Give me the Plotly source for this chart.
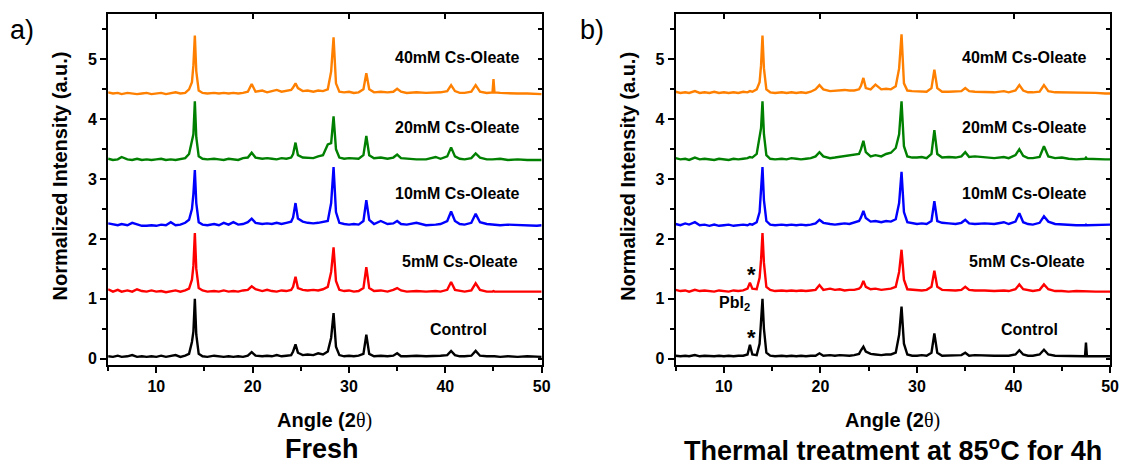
import plotly.graph_objects as go

# ---------------- data ----------------
angle_fresh = [5, 5.5, 6, 6.4, 7, 7.5, 8, 8.5, 9, 9.5,
               10, 10.5, 11, 11.5, 12, 12.5, 13, 13.4, 13.7, 13.85,
               14.0, 14.15, 14.4, 14.8, 15.3, 16, 16.5, 17, 17.5, 18,
               18.5, 19, 19.5, 19.9, 20.3, 21, 21.5, 22, 22.5, 23,
               23.5, 24, 24.2, 24.45, 24.7, 25.2, 25.7, 26.3, 26.8, 27.3,
               27.8, 28.15, 28.4, 28.65, 29, 29.5, 30, 30.5, 31, 31.5,
               31.8, 32.1, 32.6, 33.3, 34, 34.6, 35, 35.4, 36, 37,
               38, 39, 39.5, 40.2, 40.6, 41.0, 41.5, 42, 42.7, 43.15,
               43.6, 44.3, 44.9, 45.0, 45.1, 45.7, 46.5, 47.5, 48.5, 49.5,
               50]

fresh_control = [0.04, 0.03, 0.05, 0.03, 0.04, 0.06, 0.03, 0.04, 0.03, 0.04,
                 0.03, 0.05, 0.03, 0.04, 0.06, 0.03, 0.05, 0.08, 0.28, 0.45,
                 1.00, 0.40, 0.08, 0.04, 0.03, 0.05, 0.04, 0.03, 0.04, 0.03,
                 0.04, 0.03, 0.05, 0.11, 0.05, 0.04, 0.05, 0.04, 0.06, 0.04,
                 0.05, 0.06, 0.12, 0.24, 0.10, 0.06, 0.07, 0.06, 0.09, 0.07,
                 0.12, 0.35, 0.76, 0.20, 0.06, 0.04, 0.05, 0.04, 0.05, 0.08,
                 0.40, 0.08, 0.04, 0.05, 0.04, 0.05, 0.09, 0.04, 0.04, 0.05,
                 0.04, 0.04, 0.05, 0.06, 0.13, 0.06, 0.04, 0.04, 0.05, 0.13,
                 0.05, 0.04, 0.03, 0.04, 0.04, 0.03, 0.04, 0.03, 0.04, 0.03,
                 0.03]

fresh_5mM = [1.16, 1.12, 1.15, 1.12, 1.14, 1.12, 1.16, 1.13, 1.12, 1.14,
             1.12, 1.13, 1.11, 1.12, 1.14, 1.12, 1.14, 1.17, 1.32, 1.55,
             2.10, 1.50, 1.18, 1.14, 1.12, 1.13, 1.12, 1.14, 1.12, 1.13,
             1.12, 1.14, 1.15, 1.21, 1.16, 1.13, 1.15, 1.13, 1.12, 1.14,
             1.13, 1.15, 1.20, 1.37, 1.18, 1.15, 1.14, 1.15, 1.14, 1.16,
             1.20, 1.45, 1.86, 1.30, 1.15, 1.13, 1.14, 1.12, 1.13, 1.18,
             1.53, 1.18, 1.13, 1.14, 1.12, 1.15, 1.18, 1.14, 1.12, 1.13,
             1.12, 1.13, 1.12, 1.15, 1.28, 1.15, 1.13, 1.12, 1.14, 1.26,
             1.15, 1.12, 1.12, 1.13, 1.12, 1.12, 1.12, 1.11, 1.12, 1.11,
             1.12]

fresh_10mM = [2.26, 2.24, 2.23, 2.25, 2.23, 2.27, 2.24, 2.22, 2.22, 2.23,
              2.22, 2.24, 2.23, 2.28, 2.23, 2.24, 2.27, 2.32, 2.50, 2.75,
              3.15, 2.60, 2.28, 2.24, 2.23, 2.25, 2.23, 2.27, 2.24, 2.28,
              2.24, 2.25, 2.28, 2.34, 2.27, 2.25, 2.26, 2.25, 2.27, 2.25,
              2.27, 2.29, 2.36, 2.60, 2.34, 2.29, 2.27, 2.26, 2.27, 2.28,
              2.30, 2.60, 3.20, 2.45, 2.27, 2.25, 2.24, 2.25, 2.24, 2.30,
              2.65, 2.32, 2.25, 2.30, 2.25, 2.26, 2.30, 2.25, 2.24, 2.27,
              2.23, 2.24, 2.25, 2.30, 2.46, 2.30, 2.25, 2.24, 2.27, 2.42,
              2.28, 2.25, 2.24, 2.24, 2.24, 2.23, 2.24, 2.23, 2.23, 2.22,
              2.23]

fresh_20mM = [3.34, 3.32, 3.33, 3.37, 3.33, 3.32, 3.34, 3.32, 3.33, 3.32,
              3.33, 3.34, 3.32, 3.33, 3.32, 3.34, 3.35, 3.42, 3.62, 3.75,
              4.30, 3.70, 3.38, 3.34, 3.33, 3.34, 3.33, 3.32, 3.34, 3.33,
              3.32, 3.35, 3.36, 3.44, 3.36, 3.34, 3.35, 3.34, 3.33, 3.35,
              3.34, 3.36, 3.42, 3.61, 3.40, 3.36, 3.35, 3.35, 3.38, 3.40,
              3.58, 3.60, 4.05, 3.50, 3.36, 3.34, 3.35, 3.34, 3.34, 3.40,
              3.72, 3.40, 3.35, 3.36, 3.34, 3.36, 3.41, 3.35, 3.34, 3.33,
              3.33, 3.37, 3.34, 3.38, 3.53, 3.38, 3.34, 3.33, 3.35, 3.43,
              3.36, 3.33, 3.33, 3.33, 3.33, 3.34, 3.32, 3.33, 3.32, 3.32,
              3.32]

fresh_40mM = [4.45, 4.43, 4.44, 4.42, 4.44, 4.43, 4.42, 4.43, 4.44, 4.42,
              4.43, 4.44, 4.42, 4.43, 4.45, 4.43, 4.44, 4.50, 4.62, 4.90,
              5.40, 4.80, 4.48, 4.44, 4.43, 4.44, 4.43, 4.44, 4.43, 4.44,
              4.43, 4.44, 4.46, 4.59, 4.46, 4.48, 4.45, 4.47, 4.49, 4.46,
              4.47, 4.49, 4.53, 4.60, 4.52, 4.47, 4.48, 4.46, 4.48, 4.47,
              4.50, 4.80, 5.37, 4.60, 4.46, 4.45, 4.46, 4.44, 4.45, 4.50,
              4.77, 4.50, 4.45, 4.46, 4.45, 4.46, 4.51, 4.46, 4.44, 4.45,
              4.44, 4.44, 4.45, 4.47, 4.57, 4.47, 4.44, 4.44, 4.46, 4.57,
              4.46, 4.44, 4.45, 4.67, 4.45, 4.44, 4.43, 4.43, 4.43, 4.42,
              4.42]

angle_thermal = [5, 5.5, 6, 6.4, 7, 7.5, 8, 8.5, 9, 9.5,
                 10, 10.5, 11, 11.5, 12, 12.45, 12.7, 12.95, 13.4, 13.7,
                 13.85, 14.0, 14.15, 14.4, 14.8, 15.3, 16, 16.5, 17, 17.5,
                 18, 18.5, 19, 19.5, 19.9, 20.3, 21, 21.5, 22, 22.5,
                 23, 23.5, 24, 24.2, 24.45, 24.7, 25.2, 25.7, 26.3, 26.8,
                 27.3, 27.8, 28.15, 28.4, 28.65, 29, 29.5, 30, 30.5, 31,
                 31.5, 31.8, 32.1, 32.6, 33.3, 34, 34.6, 35, 35.4, 36,
                 37, 38, 39, 39.5, 40.2, 40.6, 41.0, 41.5, 42, 42.7,
                 43.15, 43.6, 44.3, 45.0, 45.7, 46.5, 47.4, 47.5, 47.6, 48.5,
                 49.5, 50]

thermal_control = [0.05, 0.04, 0.05, 0.04, 0.06, 0.04, 0.05, 0.04, 0.04, 0.05,
                   0.04, 0.05, 0.04, 0.05, 0.05, 0.07, 0.23, 0.07, 0.06, 0.25,
                   0.55, 1.00, 0.50, 0.10, 0.05, 0.04, 0.05, 0.04, 0.05, 0.04,
                   0.05, 0.04, 0.05, 0.05, 0.09, 0.05, 0.06, 0.05, 0.06, 0.05,
                   0.05, 0.06, 0.08, 0.14, 0.20, 0.12, 0.08, 0.07, 0.06, 0.07,
                   0.07, 0.10, 0.40, 0.87, 0.25, 0.07, 0.05, 0.05, 0.06, 0.05,
                   0.10, 0.42, 0.10, 0.05, 0.05, 0.05, 0.06, 0.10, 0.05, 0.06,
                   0.05, 0.05, 0.05, 0.05, 0.07, 0.14, 0.07, 0.05, 0.05, 0.07,
                   0.15, 0.07, 0.05, 0.05, 0.04, 0.05, 0.04, 0.27, 0.04, 0.04,
                   0.04, 0.04]

thermal_5mM = [1.15, 1.13, 1.14, 1.12, 1.15, 1.13, 1.14, 1.13, 1.12, 1.14,
               1.13, 1.12, 1.14, 1.13, 1.14, 1.17, 1.27, 1.17, 1.16, 1.35,
               1.65, 2.10, 1.60, 1.20, 1.15, 1.13, 1.14, 1.13, 1.14, 1.13,
               1.14, 1.13, 1.14, 1.15, 1.23, 1.15, 1.17, 1.15, 1.16, 1.14,
               1.15, 1.15, 1.17, 1.20, 1.30, 1.20, 1.16, 1.17, 1.15, 1.16,
               1.17, 1.20, 1.45, 1.82, 1.32, 1.16, 1.15, 1.15, 1.14, 1.15,
               1.20, 1.47, 1.20, 1.15, 1.14, 1.14, 1.15, 1.20, 1.15, 1.14,
               1.14, 1.13, 1.14, 1.13, 1.16, 1.24, 1.16, 1.14, 1.13, 1.15,
               1.24, 1.16, 1.13, 1.13, 1.12, 1.13, 1.12, 1.13, 1.12, 1.12,
               1.12, 1.12]

thermal_10mM = [2.25, 2.23, 2.26, 2.24, 2.28, 2.23, 2.24, 2.22, 2.24, 2.22,
                2.23, 2.24, 2.22, 2.23, 2.24, 2.23, 2.25, 2.24, 2.28, 2.45,
                2.80, 3.20, 2.65, 2.30, 2.24, 2.23, 2.24, 2.23, 2.24, 2.23,
                2.24, 2.23, 2.24, 2.26, 2.32, 2.27, 2.25, 2.24, 2.25, 2.26,
                2.25, 2.27, 2.30, 2.36, 2.47, 2.35, 2.29, 2.30, 2.28, 2.30,
                2.29, 2.33, 2.60, 3.12, 2.45, 2.28, 2.26, 2.25, 2.26, 2.25,
                2.30, 2.63, 2.30, 2.27, 2.26, 2.25, 2.27, 2.32, 2.26, 2.25,
                2.26, 2.25, 2.28, 2.25, 2.29, 2.43, 2.28, 2.25, 2.24, 2.27,
                2.38, 2.29, 2.25, 2.24, 2.24, 2.23, 2.23, 2.24, 2.23, 2.23,
                2.23, 2.24]

thermal_20mM = [3.35, 3.33, 3.34, 3.32, 3.36, 3.33, 3.34, 3.33, 3.32, 3.34,
                3.33, 3.32, 3.34, 3.33, 3.34, 3.35, 3.37, 3.36, 3.42, 3.70,
                3.85, 4.30, 3.75, 3.40, 3.34, 3.33, 3.34, 3.33, 3.35, 3.34,
                3.33, 3.34, 3.35, 3.38, 3.45, 3.38, 3.35, 3.36, 3.37, 3.38,
                3.39, 3.40, 3.42, 3.50, 3.64, 3.45, 3.38, 3.40, 3.38, 3.42,
                3.44, 3.52, 3.75, 4.30, 3.55, 3.38, 3.36, 3.36, 3.37, 3.35,
                3.42, 3.82, 3.42, 3.36, 3.37, 3.36, 3.38, 3.45, 3.37, 3.38,
                3.36, 3.35, 3.37, 3.35, 3.40, 3.50, 3.39, 3.35, 3.35, 3.37,
                3.55, 3.38, 3.35, 3.36, 3.34, 3.33, 3.34, 3.36, 3.34, 3.33,
                3.33, 3.33]

thermal_40mM = [4.46, 4.44, 4.45, 4.44, 4.47, 4.44, 4.45, 4.44, 4.46, 4.44,
                4.45, 4.44, 4.45, 4.44, 4.46, 4.45, 4.47, 4.46, 4.50, 4.62,
                4.90, 5.40, 4.85, 4.50, 4.45, 4.44, 4.45, 4.44, 4.45, 4.44,
                4.45, 4.44, 4.46, 4.50, 4.57, 4.50, 4.47, 4.48, 4.48, 4.49,
                4.48, 4.48, 4.50, 4.56, 4.69, 4.52, 4.50, 4.58, 4.50, 4.51,
                4.50, 4.55, 4.85, 5.42, 4.60, 4.48, 4.47, 4.47, 4.46, 4.46,
                4.52, 4.83, 4.52, 4.46, 4.46, 4.46, 4.47, 4.52, 4.47, 4.46,
                4.46, 4.45, 4.47, 4.45, 4.48, 4.57, 4.48, 4.45, 4.45, 4.46,
                4.57, 4.47, 4.45, 4.45, 4.44, 4.44, 4.44, 4.45, 4.44, 4.44,
                4.43, 4.43]

series_names = ["Control", "5mM Cs-Oleate", "10mM Cs-Oleate", "20mM Cs-Oleate", "40mM Cs-Oleate"]
series_colors = ["#000000", "#FF0000", "#0000FF", "#008000", "#FF8000"]
fresh_series = [fresh_control, fresh_5mM, fresh_10mM, fresh_20mM, fresh_40mM]
thermal_series = [thermal_control, thermal_5mM, thermal_10mM, thermal_20mM, thermal_40mM]

# label anchor positions (data coords: right end x, centre y)
fresh_label_x = [44.5, 47.7, 48.0, 48.0, 48.0]
fresh_label_y = [0.48, 1.63, 2.76, 3.87, 5.03]
thermal_label_x = [44.8, 47.6, 47.8, 47.8, 47.8]
thermal_label_y = [0.48, 1.63, 2.76, 3.87, 5.03]

x_range = [5, 50]
y_range = [-0.1, 5.76]

# ---------------- figure ----------------
W, H = 1132, 472
FONT = "Liberation Sans, Arial, sans-serif"

fig = go.Figure()
for vals, col, name in zip(fresh_series, series_colors, series_names):
    fig.add_trace(go.Scatter(x=angle_fresh, y=vals, mode="lines", name=name,
                             line=dict(color=col, width=2.4), xaxis="x", yaxis="y"))
for vals, col, name in zip(thermal_series, series_colors, series_names):
    fig.add_trace(go.Scatter(x=angle_thermal, y=vals, mode="lines", name=name,
                             line=dict(color=col, width=2.4), xaxis="x2", yaxis="y2"))
# invisible single-point helper traces so the top/right inside-tick axes are drawn
for xa, ya in [("x3", "y3"), ("x4", "y4")]:
    fig.add_trace(go.Scatter(x=[x_range[0]], y=[y_range[0]], mode="lines", opacity=0,
                             xaxis=xa, yaxis=ya, showlegend=False, hoverinfo="skip"))


def px(x):
    return x / W


def py(y):
    return 1 - y / H


tickfont = dict(family=FONT, size=16, color="black", weight="bold")
ydom = [py(367), py(14)]
doms = [[px(109), px(546)], [px(681), px(1119)]]

base_x = dict(range=x_range, showline=True, linewidth=2, linecolor="black", mirror=True,
              ticks="outside", ticklen=6, tickwidth=2, tickcolor="black", dtick=10, tick0=0,
              minor=dict(ticks="outside", ticklen=4, tickwidth=1.5, tickcolor="black", dtick=5, tick0=0),
              showgrid=False, zeroline=False, tickfont=tickfont)
base_y = dict(range=y_range, showline=True, linewidth=2, linecolor="black", mirror=True,
              ticks="outside", ticklen=6, tickwidth=2, tickcolor="black", dtick=1, tick0=0,
              minor=dict(ticks="outside", ticklen=4, tickwidth=1.5, tickcolor="black", dtick=0.5, tick0=0),
              showgrid=False, zeroline=False, tickfont=tickfont)
top_x = dict(range=x_range, side="top", showline=False, ticks="inside", ticklen=5, tickwidth=2,
             tickcolor="black", dtick=10, tick0=0, showticklabels=False, showgrid=False, zeroline=False)
right_y = dict(range=y_range, side="right", showline=False, ticks="inside", ticklen=4, tickwidth=2,
               tickcolor="black", dtick=0.5, tick0=0, showticklabels=False, showgrid=False, zeroline=False)

fig.update_layout(
    width=W, height=H, margin=dict(l=0, r=0, t=0, b=0),
    paper_bgcolor="white", plot_bgcolor="rgba(0,0,0,0)", showlegend=False,
    xaxis=dict(base_x, domain=doms[0], anchor="y"),
    yaxis=dict(base_y, domain=ydom, anchor="x"),
    xaxis2=dict(base_x, domain=doms[1], anchor="y2"),
    yaxis2=dict(base_y, domain=ydom, anchor="x2"),
    xaxis3=dict(top_x, domain=doms[0], anchor="y3"),
    yaxis3=dict(right_y, domain=ydom, anchor="x3"),
    xaxis4=dict(top_x, domain=doms[1], anchor="y4"),
    yaxis4=dict(right_y, domain=ydom, anchor="x4"),
)

ann = []
# series labels
for xs, ys, xr, yr in [(fresh_label_x, fresh_label_y, "x", "y"),
                       (thermal_label_x, thermal_label_y, "x2", "y2")]:
    for name, lx, ly in zip(series_names, xs, ys):
        ann.append(dict(x=lx, y=ly, xref=xr, yref=yr, text="<b>%s</b>" % name, showarrow=False,
                        xanchor="right", yanchor="middle",
                        font=dict(family=FONT, size=16, color="black")))
# PbI2 markers
ann.append(dict(x=12.9, y=1.40, xref="x2", yref="y2", text="<b>*</b>", showarrow=False,
                font=dict(family=FONT, size=22, color="black")))
ann.append(dict(x=12.9, y=0.36, xref="x2", yref="y2", text="<b>*</b>", showarrow=False,
                font=dict(family=FONT, size=22, color="black")))
ann.append(dict(x=11.1, y=0.93, xref="x2", yref="y2", text="<b>PbI<sub>2</sub></b>", showarrow=False,
                font=dict(family=FONT, size=16, color="black")))

# axis titles
for cx in [60, 633]:
    ann.append(dict(x=px(cx), y=py(177), xref="paper", yref="paper", textangle=-90,
                    text="<b>Normalized Intensity (a.u.)</b>", showarrow=False,
                    xanchor="center", yanchor="middle",
                    font=dict(family=FONT, size=20, color="black")))
for cx in [327, 900]:
    ann.append(dict(x=px(cx), y=py(423), xref="paper", yref="paper",
                    text="<b>Angle (2</b><span style='font-family:Liberation Serif'>θ)</span>",
                    showarrow=False, xanchor="center", yanchor="middle",
                    font=dict(family=FONT, size=20, color="black")))
# bottom captions
ann.append(dict(x=px(325), y=py(452), xref="paper", yref="paper", text="<b>Fresh</b>",
                showarrow=False, xanchor="center", yanchor="middle",
                font=dict(family=FONT, size=27, color="black")))
ann.append(dict(x=px(900), y=py(452), xref="paper", yref="paper",
                text="<b>Thermal treatment at 85<sup>o</sup>C for 4h</b>",
                showarrow=False, xanchor="center", yanchor="middle",
                font=dict(family=FONT, size=27, color="black")))
# panel letters
ann.append(dict(x=px(8), y=py(30), xref="paper", yref="paper", text="a)", showarrow=False,
                xanchor="left", yanchor="middle", font=dict(family=FONT, size=27, color="black")))
ann.append(dict(x=px(583), y=py(30), xref="paper", yref="paper", text="b)", showarrow=False,
                xanchor="left", yanchor="middle", font=dict(family=FONT, size=27, color="black")))

fig.update_layout(annotations=ann)
fig.write_html("out.html")
